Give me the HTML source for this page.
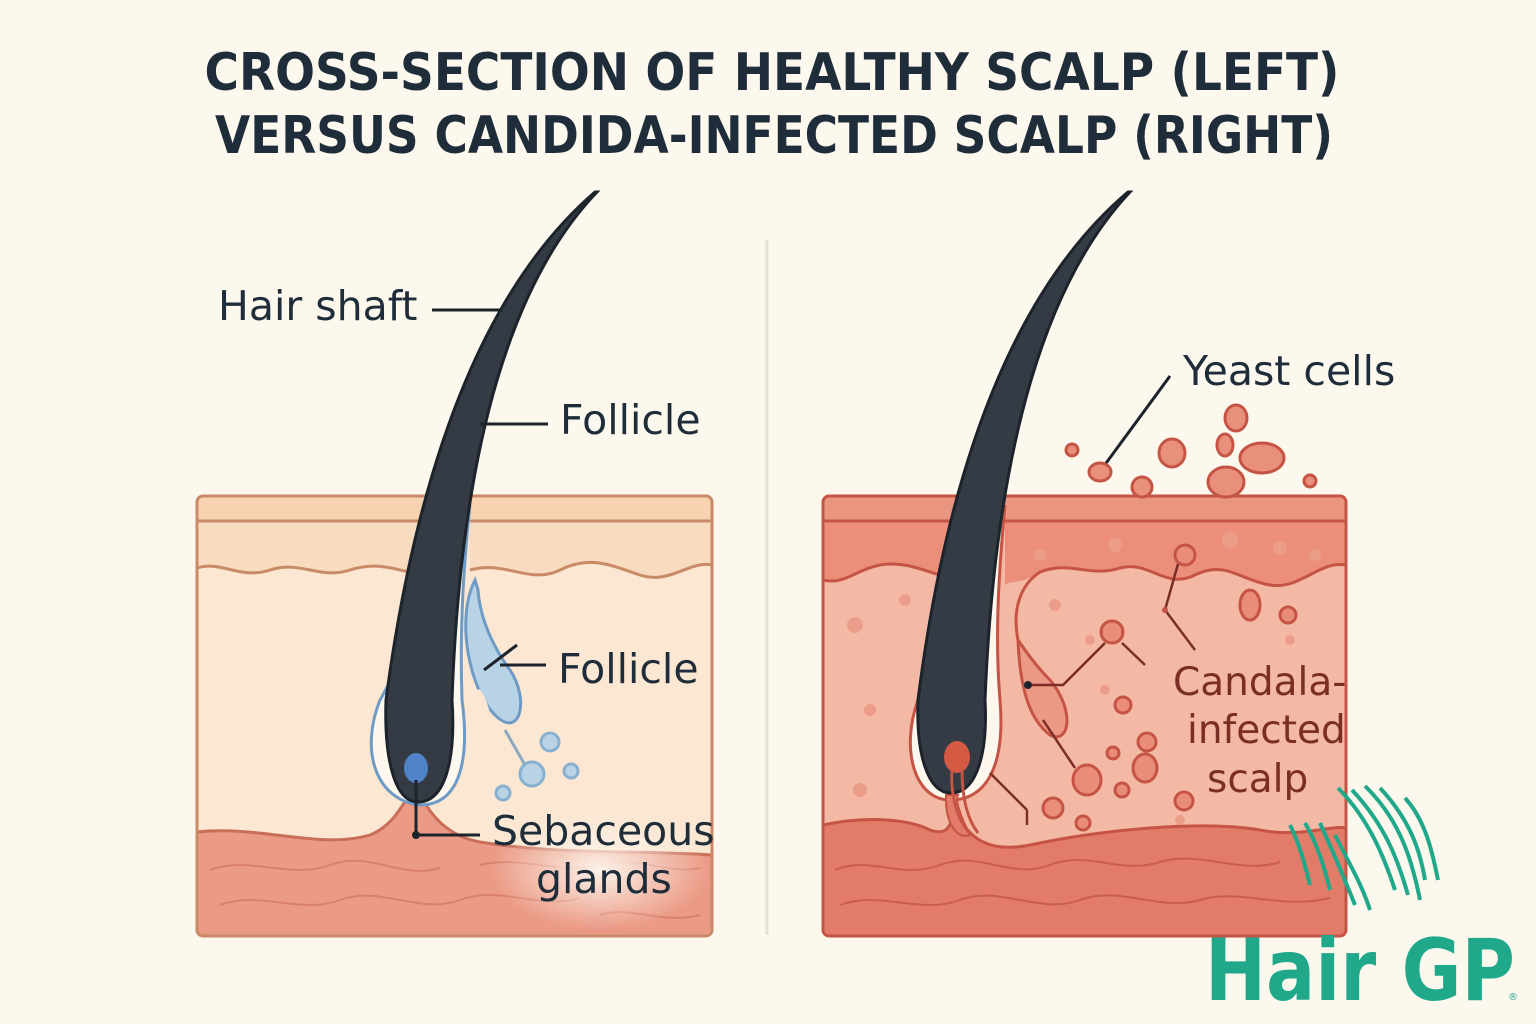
<!DOCTYPE html>
<html><head><meta charset="utf-8"><style>
html,body{margin:0;padding:0;background:#fcf8ee;}
svg{display:block}
text{font-family:"DejaVu Sans","Liberation Sans",sans-serif;}
</style></head><body>
<svg width="1536" height="1024" viewBox="0 0 1536 1024" xmlns="http://www.w3.org/2000/svg">
<rect width="1536" height="1024" fill="#fcf8ee"/>
<text x="772" y="90" text-anchor="middle" font-size="52" font-weight="bold" fill="#1f2d3a" textLength="1135" lengthAdjust="spacingAndGlyphs">CROSS-SECTION OF HEALTHY SCALP (LEFT)</text>
<text x="774" y="153" text-anchor="middle" font-size="52" font-weight="bold" fill="#1f2d3a" textLength="1118" lengthAdjust="spacingAndGlyphs">VERSUS CANDIDA-INFECTED SCALP (RIGHT)</text>
<line x1="767" y1="240" x2="767" y2="935" stroke="#e6e0d4" stroke-width="3"/>

<defs><clipPath id="cl"><rect x="197" y="496" width="515" height="440" rx="6"/></clipPath>
<clipPath id="cr"><rect x="823" y="496" width="523" height="440" rx="6"/></clipPath>
<radialGradient id="glow" cx="0.5" cy="0.5" r="0.5"><stop offset="0" stop-color="#fdf3ea"/><stop offset="1" stop-color="#fdf3ea" stop-opacity="0"/></radialGradient></defs>
<g clip-path="url(#cl)">
<rect x="197" y="496" width="515" height="440" fill="#fbe7d2"/>
<rect x="197" y="496" width="515" height="25" fill="#f7d3b2"/>
<path d="M197,521 H712 V565 C690,560 670,585 640,575 C610,565 590,555 560,570 C530,585 505,560 470,570 L470,521 Z" fill="#f9dcc0"/>
<path d="M197,521 H425 V575 C400,570 380,560 350,570 C320,580 300,560 270,570 C240,580 220,560 197,568 Z" fill="#f9dcc0"/>
<path d="M197,521 H425" stroke="#c98a66" stroke-width="3"/>
<path d="M470,521 H712" stroke="#c98a66" stroke-width="3"/>
<path d="M197,568 C220,560 240,580 270,570 C300,560 320,580 350,570 C380,560 400,572 425,575" fill="none" stroke="#c98a66" stroke-width="3"/>
<path d="M470,570 C505,560 530,585 560,570 C590,555 610,565 640,575 C670,585 690,560 712,565" fill="none" stroke="#c98a66" stroke-width="3"/>
<path d="M197,832 C260,825 320,850 370,835 C395,825 405,800 415,785 C425,805 440,835 480,842 C560,855 640,850 712,855 V936 H197Z" fill="#eb9a85" stroke="#c96e58" stroke-width="3"/>
<g fill="none" stroke="#d9806c" stroke-width="2">
<path d="M210,870 C250,855 290,880 330,865 C370,850 400,880 440,868"/>
<path d="M220,905 C260,890 300,915 340,900 C380,885 420,915 460,900 C500,885 540,910 580,898"/>
<path d="M480,865 C520,855 560,875 600,865 C640,855 670,875 700,868"/>
<path d="M600,915 C630,905 660,925 700,915"/>
</g>
<ellipse cx="600" cy="870" rx="110" ry="60" fill="url(#glow)"/>
<path d="M475,580 C455,620 470,690 495,715 C520,740 530,700 510,670 C495,650 480,620 478,590Z" fill="#b9d3e6" stroke="#6e9bc6" stroke-width="3"/>
<path d="M478,690 C485,700 490,715 488,725" fill="none" stroke="#fbe7d2" stroke-width="4"/>
<line x1="505" y1="730" x2="525" y2="765" stroke="#8aa8c0" stroke-width="3"/>
<g fill="#b9d3e6" stroke="#8ab0d0" stroke-width="3">
<circle cx="550" cy="742" r="9"/><circle cx="532" cy="774" r="12"/><circle cx="571" cy="771" r="7"/><circle cx="503" cy="793" r="7"/>
</g>
<path d="M425,505 C420,580 410,650 380,700 C360,750 375,800 420,805 C460,805 470,760 462,700 C460,640 462,580 470,505" fill="#fdf7ee" stroke="#6e9bc6" stroke-width="3"/>
</g>
<rect x="197" y="496" width="515" height="440" rx="6" fill="none" stroke="#c98a66" stroke-width="3"/>
<!-- left hair -->
<path d="M595,192 Q435,330 386,700 C384,760 395,802 418,802 C445,802 456,760 452,700 Q465,330 597,192Z" fill="#343b45" stroke="#1d232b" stroke-width="3"/>
<ellipse cx="416" cy="768" rx="12" ry="15" fill="#4f82c7"/>
<line x1="416" y1="780" x2="416" y2="835" stroke="#1d232b" stroke-width="3"/>
<line x1="416" y1="835" x2="480" y2="835" stroke="#1d232b" stroke-width="3"/>
<circle cx="416" cy="835" r="4" fill="#1d232b"/>

<g font-size="41" fill="#1f2d3a">
<text x="218" y="320">Hair shaft</text>
<text x="560" y="434">Follicle</text>
<text x="558" y="683">Follicle</text>
<text x="492" y="845">Sebaceous</text>
<text x="536" y="893">glands</text>
<text x="1183" y="385">Yeast cells</text>
</g>
<g stroke="#1d232b" stroke-width="3">
<line x1="432" y1="310" x2="502" y2="310"/>
<line x1="480" y1="424" x2="548" y2="424"/>
<line x1="484" y1="670" x2="517" y2="645"/><line x1="500" y1="665" x2="546" y2="665"/>
<line x1="1101" y1="470" x2="1170" y2="376"/>
</g>

<!-- RIGHT BOX -->
<g clip-path="url(#cr)">
<rect x="823" y="496" width="523" height="440" fill="#f4b9a4"/>
<rect x="823" y="496" width="523" height="25" fill="#ea9580"/>
<path d="M823,521 H960 V580 C930,575 910,560 880,565 C855,570 845,585 823,580 Z" fill="#eb8f7a"/>
<path d="M1005,521 H1346 V565 C1320,560 1300,590 1270,585 C1240,580 1225,560 1195,575 C1165,590 1150,560 1120,568 C1090,578 1070,560 1040,572 C1020,585 1010,580 1005,585Z" fill="#eb8f7a"/>
<path d="M823,521 H960 M1005,521 H1346" stroke="#c55444" stroke-width="3"/>
<path d="M823,580 C845,585 855,570 880,565 C910,560 930,575 960,580" fill="none" stroke="#c55444" stroke-width="3"/>
<path d="M1346,565 C1320,560 1300,590 1270,585 C1240,580 1225,560 1195,575 C1165,590 1150,560 1120,568 C1090,578 1070,560 1040,572 C1020,585 1012,610 1018,640" fill="none" stroke="#c55444" stroke-width="3"/>
<path d="M1018,640 C1020,690 1030,720 1050,735 C1070,745 1075,710 1050,680 C1035,665 1025,650 1018,640Z" fill="#ec9a86" stroke="#c55444" stroke-width="3"/>
<path d="M823,825 C870,815 910,820 930,830 C945,835 950,830 955,810 C965,830 980,855 1030,845 C1100,830 1200,820 1260,830 C1300,838 1330,825 1346,828 V936 H823Z" fill="#e27b67" stroke="#c55444" stroke-width="3"/>
<g fill="none" stroke="#c95e4c" stroke-width="2">
<path d="M835,870 C870,855 900,880 940,865 C980,850 1010,880 1050,865 C1090,850 1120,875 1160,862 C1200,850 1240,875 1280,862"/>
<path d="M840,905 C880,890 920,915 960,900 C1000,885 1040,915 1080,900 C1120,885 1160,912 1200,900 C1240,888 1280,910 1330,898"/>
</g>
<g fill="#ec9d89">
<circle cx="855" cy="625" r="8"/><circle cx="870" cy="710" r="6"/><circle cx="860" cy="790" r="7"/><circle cx="905" cy="600" r="6"/><circle cx="1090" cy="640" r="5"/><circle cx="1055" cy="605" r="6"/><circle cx="1105" cy="690" r="5"/><circle cx="1180" cy="820" r="5"/><circle cx="1290" cy="640" r="5"/><circle cx="1040" cy="555" r="6"/><circle cx="1230" cy="540" r="8"/><circle cx="1280" cy="548" r="7"/><circle cx="1315" cy="555" r="6"/><circle cx="1115" cy="545" r="7"/>
</g>
<g fill="#e98d7a" stroke="#c55444" stroke-width="3">
<circle cx="1185" cy="555" r="10"/><ellipse cx="1250" cy="605" rx="10" ry="15"/><circle cx="1288" cy="615" r="8"/><circle cx="1112" cy="632" r="11"/><circle cx="1123" cy="705" r="8"/><circle cx="1147" cy="742" r="9"/><ellipse cx="1145" cy="768" rx="12" ry="14"/><circle cx="1113" cy="753" r="6"/><ellipse cx="1087" cy="780" rx="14" ry="15"/><circle cx="1122" cy="790" r="7"/><circle cx="1053" cy="808" r="10"/><circle cx="1083" cy="823" r="7"/><circle cx="1184" cy="801" r="9"/>
</g>
<path d="M960,505 C955,600 935,660 918,700 C900,750 915,800 950,800 C990,800 1005,760 1000,700 C995,640 998,580 1005,505" fill="#fdf7ee" stroke="#c55444" stroke-width="3"/>
<path d="M946,795 C945,820 955,840 970,835 C960,815 955,800 958,795Z" fill="#e27b67" stroke="#c55444" stroke-width="2"/>
</g>
<rect x="823" y="496" width="523" height="440" rx="6" fill="none" stroke="#c55444" stroke-width="3"/>
<!-- right hair -->
<path d="M1128,192 Q965,330 918,700 C916,755 928,793 951,793 C976,793 988,755 985,700 Q1000,330 1130,192Z" fill="#343b45" stroke="#1d232b" stroke-width="3"/>
<ellipse cx="957" cy="757" rx="13" ry="16" fill="#d45a44"/>
<path d="M952,770 C950,800 960,825 972,835 M962,770 C962,800 968,820 978,833" fill="none" stroke="#c55444" stroke-width="3"/>
<g stroke="#7a2e25" stroke-width="2.5" fill="none">
<polyline points="1028,685 1063,685 1105,643"/>
<line x1="1122" y1="643" x2="1145" y2="665"/>
<polyline points="1178,564 1165,610 1195,650"/>
<line x1="1043" y1="720" x2="1075" y2="768"/>
<line x1="990" y1="773" x2="1027" y2="810"/><line x1="1027" y1="810" x2="1027" y2="825"/>
</g>
<circle cx="1028" cy="685" r="4" fill="#1d232b"/>
<circle cx="1165" cy="610" r="3" fill="#c55444"/>
<g fill="#e9907c" stroke="#c55444" stroke-width="3">
<circle cx="1072" cy="450" r="6"/><ellipse cx="1100" cy="472" rx="11" ry="9"/><ellipse cx="1172" cy="453" rx="13" ry="14"/><ellipse cx="1236" cy="418" rx="11" ry="13"/><ellipse cx="1225" cy="445" rx="8" ry="11"/><ellipse cx="1262" cy="458" rx="22" ry="15"/><ellipse cx="1226" cy="482" rx="18" ry="15"/><ellipse cx="1142" cy="487" rx="10" ry="10"/><circle cx="1310" cy="481" r="6"/>
</g>
<g font-size="39" fill="#7a2e25">
<text x="1173" y="695">Candala-</text>
<text x="1187" y="743">infected</text>
<text x="1207" y="792">scalp</text>
</g>
<g stroke="#1fa98a" stroke-width="4" fill="none">
<path d="M1338,788 C1370,820 1385,860 1395,890"/><path d="M1352,790 C1385,825 1398,860 1408,895"/><path d="M1365,786 C1400,820 1412,860 1420,900"/><path d="M1380,788 C1410,820 1420,850 1425,880"/><path d="M1405,798 C1425,820 1432,850 1438,880"/>
<path d="M1290,825 C1300,845 1305,865 1310,885"/><path d="M1305,823 C1318,845 1325,870 1330,890"/><path d="M1320,823 C1330,845 1345,880 1355,905"/><path d="M1335,835 C1350,865 1362,885 1370,910"/>
</g>
<text x="1205" y="1000" font-size="86" font-weight="bold" fill="#1fa98a" textLength="310" lengthAdjust="spacingAndGlyphs">Hair GP</text>
<text x="1508" y="1000" font-size="10" fill="#1fa98a">®</text>
</svg>
</body></html>
